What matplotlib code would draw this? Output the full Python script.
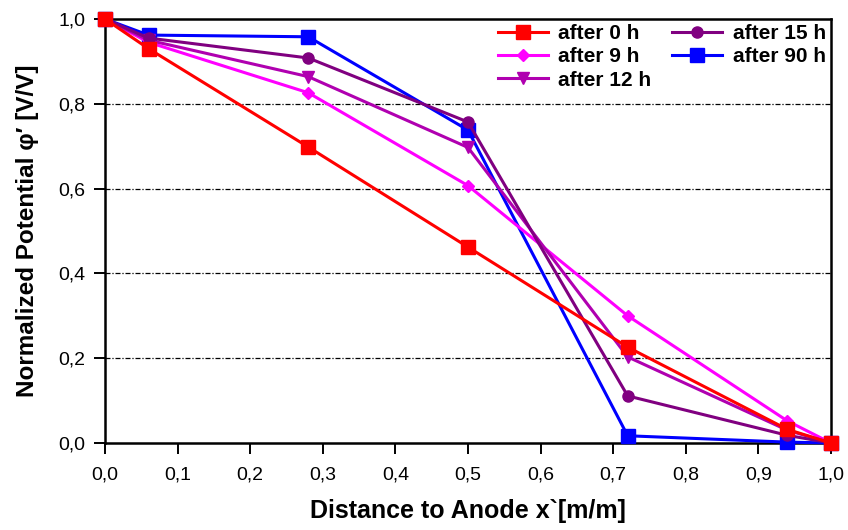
import matplotlib
matplotlib.use("Agg")
import matplotlib.pyplot as plt
from matplotlib.ticker import FuncFormatter, MultipleLocator

plt.rcParams["font.family"] = ["Liberation Sans", "DejaVu Sans"]

# distance to anode (normalized)
x = [0.0, 0.06, 0.28, 0.50, 0.72, 0.94, 1.0]

phi_0h = [1.0, 0.930, 0.698, 0.462, 0.226, 0.032, 0.0]
phi_9h = [1.0, 0.945, 0.826, 0.607, 0.300, 0.052, 0.0]
phi_12h = [1.0, 0.950, 0.864, 0.697, 0.203, 0.030, 0.0]
phi_15h = [1.0, 0.955, 0.908, 0.757, 0.111, 0.018, 0.0]
phi_90h = [1.0, 0.962, 0.958, 0.738, 0.017, 0.002, 0.0]

labels = ["after 0 h", "after 9 h", "after 12 h", "after 15 h", "after 90 h"]

fig = plt.figure(figsize=(8.48, 5.30), dpi=100)
ax = fig.add_axes([0.1238, 0.1642, 0.8561, 0.8])

style = dict(lw=2.2, clip_on=False)
ax.plot(x, phi_0h, color="#ff0000", marker="s", ms=10, label=labels[0], zorder=7, **style)
ax.plot(x, phi_9h, color="#ff00ff", marker="D", ms=6, label=labels[1], zorder=4, **style)
ax.plot(x, phi_12h, color="#b000b0", marker="v", ms=9, label=labels[2], zorder=5, **style)
ax.plot(x, phi_15h, color="#800080", marker="o", ms=8, label=labels[3], zorder=6, **style)
ax.plot(x, phi_90h, color="#0000ff", marker="s", ms=10, label=labels[4], zorder=3, **style)

ax.set_xlim(0, 1)
ax.set_ylim(0, 1)
ax.xaxis.set_major_locator(MultipleLocator(0.1))
ax.yaxis.set_major_locator(MultipleLocator(0.2))
comma = FuncFormatter(lambda v, p: f"{v:.1f}".replace(".", ","))
ax.xaxis.set_major_formatter(comma)
ax.yaxis.set_major_formatter(comma)
ax.tick_params(direction="out", length=8, width=1.4, labelsize=14, colors="black")
ax.tick_params(axis="x", pad=9)
ax.tick_params(axis="y", pad=6)

for y in [0.2, 0.4, 0.6, 0.8]:
    ax.axhline(y, color="black", lw=0.9, ls=(0, (4, 1.5, 1, 1.5)), zorder=1)

for s in ax.spines.values():
    s.set_linewidth(1.8)

ax.set_xlabel("Distance to Anode x`[m/m]", fontsize=18, fontweight="bold", labelpad=11)
ax.set_ylabel("Normalized Potential \u03c6\u2032 [V/V]", fontsize=17.5, fontweight="bold", labelpad=14)

ax.legend(loc="upper right", ncol=2, frameon=False,
          prop={"weight": "bold", "size": 15}, handlelength=2.4, handletextpad=0.5,
          columnspacing=1.0, labelspacing=0.2, borderaxespad=0.1, borderpad=0.15)

fig.savefig("out.png", dpi=100)
